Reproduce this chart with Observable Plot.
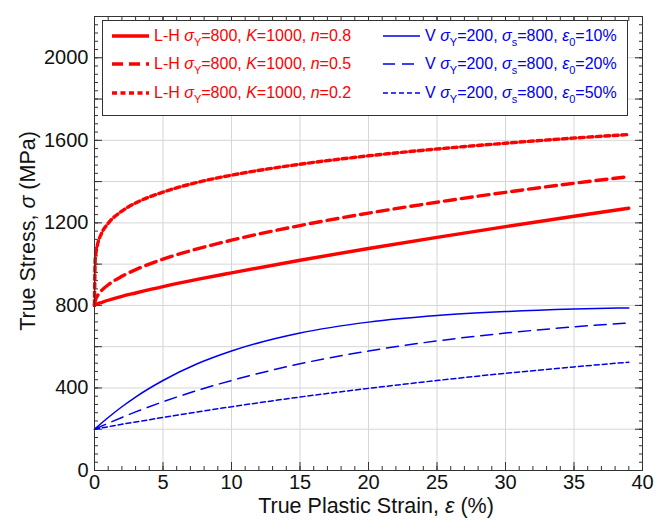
<!DOCTYPE html>
<html>
<head>
<meta charset="utf-8">
<script src="https://cdn.jsdelivr.net/npm/d3@7"></script>
<script src="https://cdn.jsdelivr.net/npm/@observablehq/plot@0.6"></script>
<style>
  body { margin: 0; background: #fff; font-family: "Liberation Sans", Arial, sans-serif; }
  #wrap { position: relative; width: 662px; height: 525px; }
  #wrap > svg { position: absolute; left: 0; top: 0; }
  .legend { position: absolute; left: 102px; top: 20px; width: 526px; height: 96px;
            border: 1px solid #333; background: #fff; box-sizing: border-box; }
  .row { position: absolute; display: flex; align-items: center; font-size: 16px; white-space: pre; height: 24px; }
  .row svg { display: block; margin-right: 5px; flex: none; }
  .row sub { font-size: 11px; vertical-align: -5px; line-height: 0; }
  .red { color: #ff0000; }
  .blue { color: #0000ee; }
  .xtitle { position: absolute; left: 376px; top: 506px; transform: translate(-50%, -50%);
            font-size: 21.5px; color: #111; white-space: nowrap; }
  .ytitle { position: absolute; left: 28px; top: 231px; transform: translate(-50%, -50%) rotate(-90deg);
            font-size: 21.5px; color: #111; white-space: nowrap; }
</style>
</head>
<body>
<div id="wrap"></div>
<script>
// Plastic strain (%) sample points for the Ludwik–Hollomon curves
const strainLH = [0, 0.05, 0.1, 0.2, 0.5, 1, 2, 3, 5, 7.5, 10, 15, 20, 25, 30, 35, 39];
const lhN08 = [800, 802, 804, 807, 814, 825, 844, 860, 891, 926, 958, 1019, 1076, 1130, 1182, 1232, 1271];
const lhN05 = [800, 822, 832, 845, 871, 900, 941, 973, 1024, 1074, 1116, 1187, 1247, 1300, 1348, 1392, 1424];
const lhN02 = [800, 1019, 1051, 1089, 1147, 1198, 1257, 1296, 1349, 1396, 1431, 1484, 1525, 1558, 1586, 1611, 1628];

// Plastic strain (%) sample points for the Voce curves
const strainV = [0, 1, 2, 3, 5, 7.5, 10, 15, 20, 25, 30, 35, 39];
const vE10 = [200, 257, 309, 356, 436, 517, 579, 666, 719, 751, 770, 782, 788];
const vE20 = [200, 229, 257, 284, 333, 388, 436, 517, 579, 628, 666, 696, 715];
const vE50 = [200, 212, 224, 235, 257, 284, 309, 356, 398, 436, 471, 502, 525];

const xMajor = [0, 5, 10, 15, 20, 25, 30, 35, 40];
const yMajor = [0, 400, 800, 1200, 1600, 2000];

const RED = "#ff0000", BLUE = "#0000ee";

const series = [
  {x: strainLH, y: lhN08, color: RED, width: 3.4, dash: null},
  {x: strainLH, y: lhN05, color: RED, width: 3.4, dash: "11,6"},
  {x: strainLH, y: lhN02, color: RED, width: 3.4, dash: "5,3.5"},
  {x: strainV, y: vE10, color: BLUE, width: 1.5, dash: null},
  {x: strainV, y: vE20, color: BLUE, width: 1.5, dash: "12,7"},
  {x: strainV, y: vE50, color: BLUE, width: 1.5, dash: "5,3"}
];

const curveMarks = series.map(s =>
  Plot.line(s.x.map((x, i) => ({strain: x, stress: s.y[i]})), {
    x: "strain", y: "stress", curve: "monotone-x",
    stroke: s.color, strokeWidth: s.width, strokeDasharray: s.dash
  })
);

const tickStyle = {stroke: "#333", strokeWidth: 1, text: null, label: null};

const chart = Plot.plot({
  width: 662,
  height: 525,
  marginLeft: 94,
  marginRight: 20,
  marginTop: 16,
  marginBottom: 55,
  style: {fontFamily: "'Liberation Sans', Arial, sans-serif", fontSize: "20px", color: "#111", background: "transparent"},
  x: {domain: [0, 40]},
  y: {domain: [0, 2200]},
  marks: [
    Plot.gridX(d3.range(5, 40, 5), {stroke: "#d6d6d6", strokeOpacity: 1}),
    Plot.gridY(d3.range(200, 2200, 200), {stroke: "#d6d6d6", strokeOpacity: 1}),
    // inward ticks on all four sides
    Plot.axisX(d3.range(0, 41, 1), {anchor: "bottom", tickSize: -4, ...tickStyle}),
    Plot.axisX(xMajor, {anchor: "bottom", tickSize: -8, ...tickStyle}),
    Plot.axisX(d3.range(0, 41, 1), {anchor: "top", tickSize: -4, ...tickStyle}),
    Plot.axisX(xMajor, {anchor: "top", tickSize: -8, ...tickStyle}),
    Plot.axisY(d3.range(0, 2201, 40), {anchor: "left", tickSize: -4, ...tickStyle}),
    Plot.axisY(d3.range(0, 2201, 200), {anchor: "left", tickSize: -8, ...tickStyle}),
    Plot.axisY(d3.range(0, 2201, 40), {anchor: "right", tickSize: -4, ...tickStyle}),
    Plot.axisY(d3.range(0, 2201, 200), {anchor: "right", tickSize: -8, ...tickStyle}),
    // tick labels
    Plot.axisX(xMajor, {anchor: "bottom", tickSize: 0, tickPadding: 4, label: null, fontSize: 20, fill: "#111", tickFormat: d3.format("d")}),
    Plot.axisY(yMajor, {anchor: "left", tickSize: 0, tickPadding: 6, label: null, fontSize: 20, fill: "#111", tickFormat: d3.format("d")}),
    ...curveMarks,
    Plot.frame({stroke: "#333", strokeWidth: 1})
  ]
});

const wrap = document.getElementById("wrap");
wrap.appendChild(chart);

// legend sample line as a tiny inline svg
function sample(s) {
  const dash = s.dash ? ` stroke-dasharray="${s.dash}"` : "";
  return `<svg width="37" height="8"><line x1="0" y1="4" x2="37" y2="4" stroke="${s.color}" stroke-width="${s.width}"${dash}/></svg>`;
}

const lhText = n => `<span>L-H <i>σ</i><sub>Y</sub>=800, <i>K</i>=1000, <i>n</i>=${n}</span>`;
const vText = e => `<span>V <i>σ</i><sub>Y</sub>=200, <i>σ</i><sub>s</sub>=800, <i>ε</i><sub>0</sub>=${e}%</span>`;
const lhN = ["0.8", "0.5", "0.2"];
const vE = ["10", "20", "50"];
const rowTops = [3, 31, 60];

let html = `<div class="legend">`;
for (let i = 0; i < 3; i++) {
  html += `<div class="row red" style="left:9px;top:${rowTops[i]}px">${sample(series[i])}${lhText(lhN[i])}</div>`;
  html += `<div class="row blue" style="left:280px;top:${rowTops[i]}px">${sample(series[i + 3])}${vText(vE[i])}</div>`;
}
html += `</div>`;
html += `<div class="xtitle">True Plastic Strain, <i>ε</i> (%)</div>`;
html += `<div class="ytitle">True Stress, <i>σ</i> (MPa)</div>`;
wrap.insertAdjacentHTML("beforeend", html);
</script>
</body>
</html>
